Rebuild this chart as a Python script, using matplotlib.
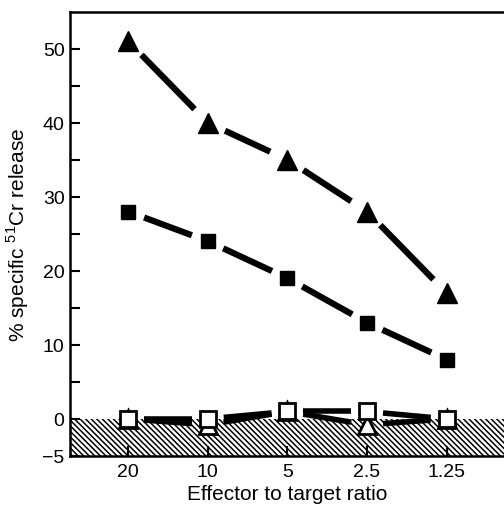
import numpy as np
import matplotlib.pyplot as plt

plt.rcParams['font.family'] = ['Liberation Sans', 'DejaVu Sans']
plt.rcParams['mathtext.fontset'] = 'custom'
plt.rcParams['mathtext.rm'] = 'Liberation Sans'
plt.rcParams['hatch.linewidth'] = 1.1

# effector to target ratios and % specific release for each group
ratios = ["20", "10", "5", "2.5", "1.25"]
filled_tri = [51, 40, 35, 28, 17]
filled_sq = [28, 24, 19, 13, 8]
open_tri = [0, -0.8, 1.0, -0.8, 0]
open_sq = [0, 0, 1.0, 1.0, 0]

fig = plt.figure(figsize=(5.04, 5.06), dpi=100)
ax = fig.add_axes([0.139, 0.097, 0.861, 0.878])
ax.set_xlim(-0.73, 4.72)
ax.set_ylim(-5, 55)

x = np.arange(len(ratios))

# hatched region below zero
ax.axhspan(-5, 0, facecolor='white', edgecolor='black', hatch='\\' * 6, linewidth=0, zorder=1)


def gapped_line(xs, ys, gap=19, lw=4.5):
    # draw each segment shortened near the markers (gap in pixels)
    pts = ax.transData.transform(np.column_stack([xs, ys]))
    inv = ax.transData.inverted()
    for p0, p1 in zip(pts[:-1], pts[1:]):
        d = p1 - p0
        u = d / np.hypot(*d)
        a = inv.transform(p0 + u * gap)
        b = inv.transform(p1 - u * gap)
        ax.plot([a[0], b[0]], [a[1], b[1]], color='black', lw=lw,
                solid_capstyle='butt', zorder=3)


gapped_line(x, filled_tri)
gapped_line(x, filled_sq, gap=17)
gapped_line(x, open_tri, gap=16, lw=4)
gapped_line(x, open_sq, gap=16, lw=4)

ax.plot(x, filled_tri, '^', ms=14, color='black', mec='black', zorder=4)
ax.plot(x, filled_sq, 's', ms=10.5, color='black', mec='black', zorder=4)
ax.plot(x, open_tri, '^', ms=13, mfc='white', mec='black', mew=2, zorder=5)
ax.plot(x, open_sq, 's', ms=11, mfc='white', mec='black', mew=2, zorder=6)

ax.set_xticks(x)
ax.set_xticklabels(ratios)
ax.set_yticks([-5, 0, 10, 20, 30, 40, 50])
ax.set_yticks([5, 15, 25, 35, 45], minor=True)
ax.tick_params(axis='both', which='both', direction='in', length=7.5, width=1.5,
               labelsize=14, color='black')
ax.tick_params(axis='y', pad=4)
ax.tick_params(axis='x', pad=5)

for s in ['left', 'bottom', 'top']:
    ax.spines[s].set_linewidth(1.8)
ax.spines['right'].set_visible(False)

ax.set_xlabel("Effector to target ratio", fontsize=15, labelpad=3)
ax.set_ylabel("% specific $^{51}$Cr release", fontsize=15, labelpad=8)

fig.savefig("out.png", dpi=100)
